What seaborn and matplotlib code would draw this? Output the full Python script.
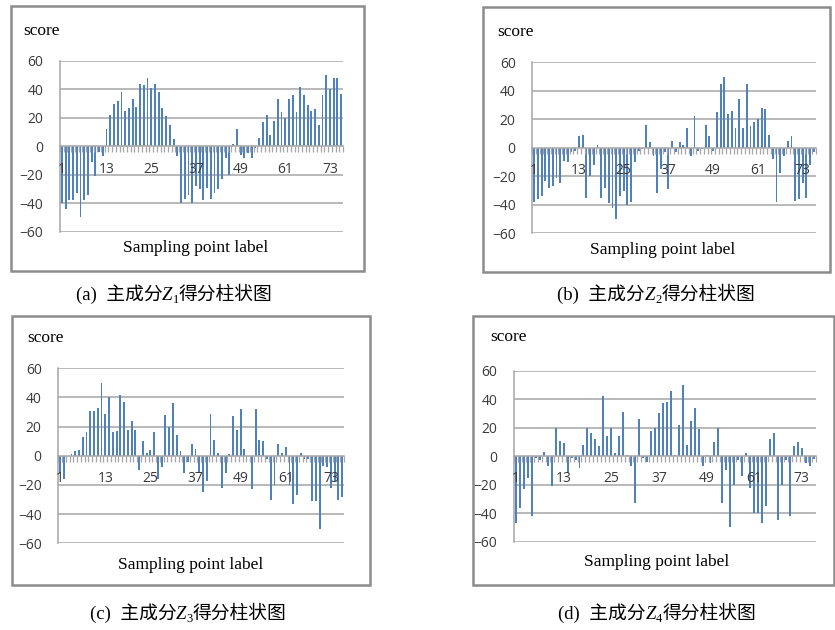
import numpy as np
import pandas as pd
import matplotlib
matplotlib.use("Agg")
import matplotlib.pyplot as plt
import seaborn as sns
from matplotlib.patches import Rectangle

# Principal component scores for the 76 sampling points
z1_scores = [-40, -44, -38, -38, -33, -50, -38, -34, -11, -21, -4, -7,
             12, 22, 30, 32, 38, 25, 27, 33, 28, 44, 43, 48, 41, 44, 38, 27, 21, 15, 5, -7,
             -40, -37, -34, -40, -28, -30, -38, -29, -37, -33, -30, -23, -8, -20,
             2, 12, -6, -8, -5, -8, -1,
             6, 17, 22, 8, 18, 33, 24, 20, 33, 36, 24, 42, 36, 29, 25, 26, 15, 36, 50, 40, 48, 48, 37]
z2_scores = [-38, -36, -34, -23, -28, -27, -21, -25, -9, -10,
             -3, -2, 8, 9, -35, -20, -12, 2, -35, -28,
             -39, -42, -50, -34, -30, -40, -38, -10, -2, -1,
             16, 4, -6, -32, -15, -3, -29, 5, -3, 4,
             2, 14, -6, 22, -2, -1, 16, 8, -2, 25,
             45, 50, 24, 26, 14, 34, 14, 45, 15, 18,
             20, 28, 27, 9, -8, -38, -18, -6, 5, 8,
             -37, -36, -25, -35, -12, -3]
z3_scores = [-12, -16, 0, 1, 3, 4, 13, 16, 31, 31,
             33, 50, 29, 40, 16, 17, 42, 37, 18, 24,
             18, -10, 10, 2, 4, 16, -16, -8, 28, 20,
             36, 14, 3, -12, -4, 8, 5, -12, -25, -17,
             29, 11, 2, -22, -12, 1, 27, 18, 32, 5,
             0, -23, 32, 11, 10, -2, -30, -20, 8, 2,
             6, -20, -33, -27, 2, -2, -2, -31, -31, -50,
             -7, -8, -22, -18, -30, -28]
z4_scores = [-47, -36, -23, -15, -42, -1, -3, 3, -7, -21,
             20, 11, 9, -12, -1, -3, -8, 8, 20, 16,
             12, 7, 42, 14, 20, 2, 14, 31, 1, -7,
             -33, 26, -1, -4, 18, 20, 30, 37, 38, 46,
             1, 22, 50, 8, 25, 34, 19, -7, 1, -5,
             10, 20, -33, -10, -50, -20, -3, -14, 2, -22,
             -40, -40, -47, -35, 12, 16, -45, -20, -3, -42,
             7, 10, 6, -5, -7, -2]

point_labels = [str(i) for i in range(1, 77)]
shown_ticks = ["1", "13", "25", "37", "49", "61", "73"]
y_ticks = [-60, -40, -20, 0, 20, 40, 60]
panel_letters = ["a", "b", "c", "d"]
component_ids = ["1", "2", "3", "4"]
caption_head = "主成分"
caption_tail = "得分柱状图"
y_title = "score"
x_title = "Sampling point label"

sns.set_theme(style="white")
SERIF_CJK = ["Liberation Serif", "Noto Sans CJK SC"]
plt.rcParams["font.family"] = SERIF_CJK

W, H = 835, 630
fig = plt.figure(figsize=(W / 100, H / 100), dpi=100)
fig.patch.set_facecolor("white")

BAR = "#4F81BD"
GRID = "#a6a6a6"
FRAME = "#8c8c8c"


def fx(px):
    return px / W


def fy(py):
    return 1 - py / H


def draw_caption(cx, base_y, letter, comp):
    """Caption built from pieces so the italic Z gets a lowered index."""
    parts = [(f"({letter})  {caption_head}", dict(fontsize=13.5), 0),
             ("Z", dict(fontsize=13.5, style="italic"), 0),
             (comp, dict(fontsize=9), -3),
             (caption_tail, dict(fontsize=13.5), 0)]
    items = []
    for s, kw, dy in parts:
        t = fig.text(0, 0, s, family=SERIF_CJK, ha="left", va="baseline",
                     color="black", **kw)
        items.append((t, dy))
    renderer = fig.canvas.get_renderer()
    widths = [t.get_window_extent(renderer).width for t, _ in items]
    x = cx - sum(widths) / 2
    for (t, dy), w in zip(items, widths):
        t.set_position((fx(x), fy(base_y) + dy / H))
        x += w


# layout in pixels: frame box, plot box, text anchors
layout = [
    dict(frame=(11, 6, 364, 271), plot=(60, 61, 343, 231.7),
         score=(23, 31), xt=(196, 248), cap=(174, 300)),
    dict(frame=(483, 7, 830, 272), plot=(532.3, 62.3, 815.7, 233.3),
         score=(497, 32), xt=(663, 250), cap=(656, 300)),
    dict(frame=(12, 316, 370, 585), plot=(58.3, 368.3, 344, 543.3),
         score=(27, 338), xt=(191, 565), cap=(188, 619)),
    dict(frame=(473, 316, 834, 585), plot=(514, 370.7, 815.7, 541.7),
         score=(490, 337), xt=(657, 562), cap=(657, 619)),
]
all_scores = [z1_scores, z2_scores, z3_scores, z4_scores]

for scores, lay, letter, comp in zip(all_scores, layout, panel_letters, component_ids):
    l, t, r, b = lay["frame"]
    fig.add_artist(Rectangle((fx(l), fy(b)), (r - l) / W, (b - t) / H,
                             transform=fig.transFigure, fill=False,
                             edgecolor=FRAME, lw=1.8))

    pl, pt, pr, pb = lay["plot"]
    ax = fig.add_axes([fx(pl), fy(pb), (pr - pl) / W, (pb - pt) / H])
    ax.set_facecolor("none")
    # gridlines behind the bars
    for yv in y_ticks:
        if yv != 0:
            ax.axhline(yv, color=GRID, lw=1.1, zorder=0)
    df = pd.DataFrame({"point": point_labels, "score": scores})
    sns.barplot(data=df, x="point", y="score", order=point_labels, ax=ax,
                color=BAR, saturation=1, width=0.5, errorbar=None,
                linewidth=0, zorder=1)
    ax.set_xlim(-0.5, len(point_labels) - 0.5)
    ax.set_ylim(-60, 60)
    ax.set_yticks(y_ticks)
    ax.grid(False)
    ax.set_axisbelow(False)

    for side in ("top", "right"):
        ax.spines[side].set_visible(False)
    ax.spines["left"].set_color(GRID)
    ax.spines["left"].set_linewidth(1.1)
    ax.spines["bottom"].set_position(("data", 0))
    ax.spines["bottom"].set_color(GRID)
    ax.spines["bottom"].set_linewidth(1.1)

    pos = [point_labels.index(s) for s in shown_ticks]
    ax.set_xticks(pos)
    ax.set_xticklabels(shown_ticks)
    ax.set_xticks(np.arange(-0.5, len(point_labels), 1.0), minor=True)
    ax.tick_params(axis="x", which="major", length=0, pad=11,
                   labelsize=10, labelcolor="#3a3a3a")
    ax.tick_params(axis="x", which="minor", length=4, width=0.9,
                   color=GRID, direction="out", bottom=True)
    ax.tick_params(axis="y", length=0, pad=12, labelsize=10,
                   labelcolor="#3a3a3a")
    for lab in ax.get_xticklabels() + ax.get_yticklabels():
        lab.set_family("Open Sans")
    ax.set_xlabel("")
    ax.set_ylabel("")

    fig.text(fx(lay["score"][0]), fy(lay["score"][1]), y_title,
             ha="left", va="center", fontsize=12.5, color="black")
    fig.text(fx(lay["xt"][0]), fy(lay["xt"][1]), x_title,
             ha="center", va="center", fontsize=12.5, color="black")
    draw_caption(lay["cap"][0], lay["cap"][1], letter, comp)

fig.savefig("out.png", dpi=100, facecolor="white")
